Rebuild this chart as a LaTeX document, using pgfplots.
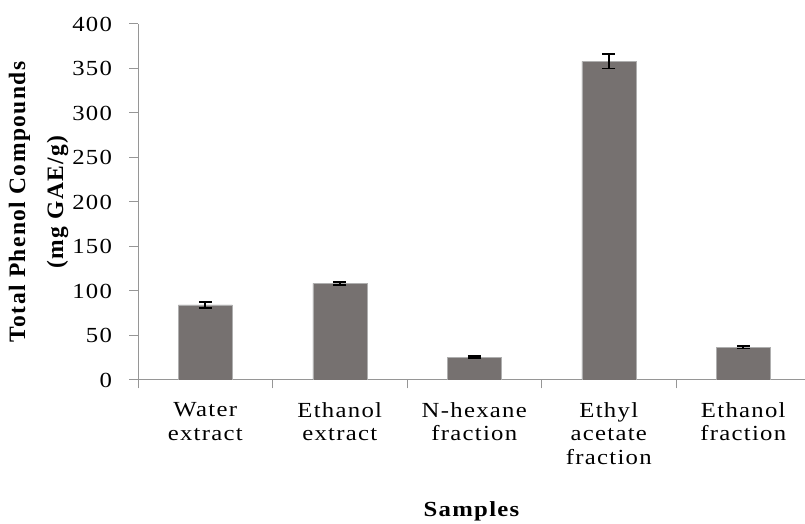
\documentclass[border=0pt]{standalone}
\usepackage{fontspec}
\setmainfont{Liberation Serif}[FakeStretch=1.15, LetterSpace=6]
\newfontfamily\ylabfont{Liberation Serif}[LetterSpace=6]
\usepackage{pgfplots}
\pgfplotsset{compat=1.18}
\definecolor{barfill}{RGB}{118,113,112}
\definecolor{baredge}{RGB}{175,175,175}
\definecolor{axgray}{RGB}{150,150,150}
\begin{document}
\begin{tikzpicture}[x=1pt,y=1pt]
\useasboundingbox (0,0) rectangle (805,524);
\begin{axis}[
  at={(138pt,144pt)}, anchor=south west,
  scale only axis, width=667pt, height=356pt,
  xmin=-0.5, xmax=4.459, ymin=0, ymax=400,
  axis x line*=bottom, axis y line*=left,
  x axis line style={-, draw=axgray, line width=1pt},
  y axis line style={-, draw=axgray, line width=1pt},
  ytick={0,50,...,400},
  tick align=outside,
  major tick length=8.5pt,
  tick style={draw=axgray, line width=1pt},
  xtick={-0.5,0.5,1.5,2.5,3.5},
  xticklabels={},
  extra x ticks={0,1,2,3,4},
  extra x tick labels={{Water\\extract},{Ethanol\\extract},{N-hexane\\fraction},{Ethyl\\acetate\\fraction},{Ethanol\\fraction}},
  extra x tick style={major tick length=0pt, tick style={draw=none},
    xticklabel style={align=center, font=\fontsize{21.5}{23.5}\selectfont, yshift=-19pt}},
  /pgf/number format/assume math mode=true,
  yticklabel style={font=\fontsize{21.5}{23}\selectfont, xshift=-14pt},
  xlabel={Samples},
  xlabel style={at={(axis description cs:0.5,0)}, anchor=center, yshift=-131pt,
    font=\fontsize{21.5}{23}\selectfont\bfseries},
  ylabel={Total Phenol Compounds\\(mg GAE/g)},
  ylabel style={align=center, font=\ylabfont\fontsize{23.5}{38}\selectfont\bfseries, yshift=-3pt},
]
\addplot[ybar, bar width=54pt, fill=barfill, draw=baredge,
  error bars/.cd, y dir=both, y explicit,
  error bar style={black, line width=1.6pt},
  error mark options={rotate=90, mark size=6.5pt, line width=1.8pt, black}]
coordinates {
  (0,84.5) +- (0,3.5)
  (1,108.5) +- (0,1.5)
  (2,25.8) +- (0,1.5)
  (3,358) +- (0,8)
  (4,37) +- (0,1.5)
};
\end{axis}
\end{tikzpicture}
\end{document}
